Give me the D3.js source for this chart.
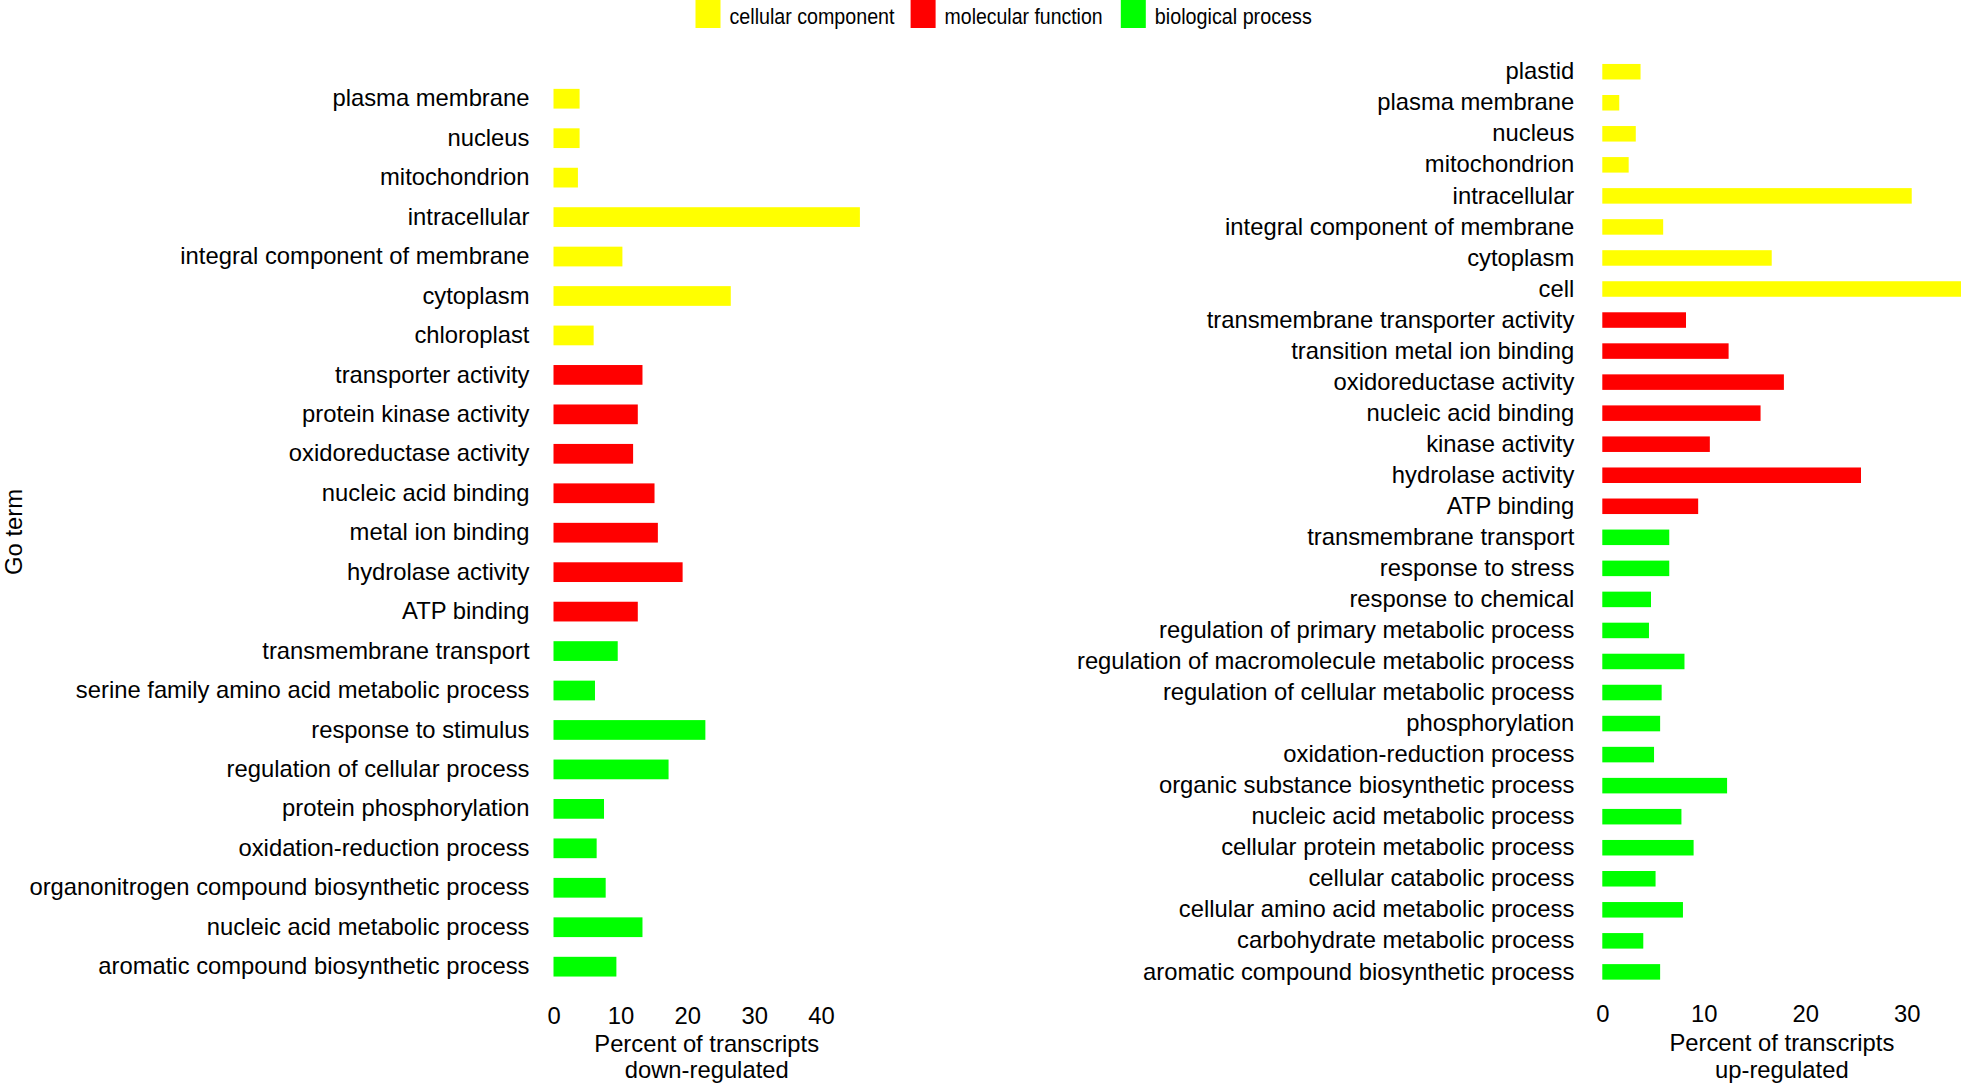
<!DOCTYPE html>
<html>
<head>
<meta charset="utf-8">
<script src="https://cdn.jsdelivr.net/npm/d3@7"></script>
<style>
  html, body { margin: 0; padding: 0; background: #fff; }
  svg { display: block; font-family: "Liberation Sans", Arial, sans-serif; }
</style>
</head>
<body>
<svg id="chart" width="1961" height="1084"></svg>
<script>
// ---------- data ----------
const groups = ["cellular component", "molecular function", "biological process"];
const groupColors = ["#FFFF00", "#FF0000", "#00FF00"];

const downTerms = [
  "plasma membrane", "nucleus", "mitochondrion", "intracellular",
  "integral component of membrane", "cytoplasm", "chloroplast",
  "transporter activity", "protein kinase activity", "oxidoreductase activity",
  "nucleic acid binding", "metal ion binding", "hydrolase activity", "ATP binding",
  "transmembrane transport", "serine family amino acid metabolic process",
  "response to stimulus", "regulation of cellular process", "protein phosphorylation",
  "oxidation-reduction process", "organonitrogen compound biosynthetic process",
  "nucleic acid metabolic process", "aromatic compound biosynthetic process"
];
const downValues = [3.9, 3.9, 3.65, 45.8, 10.3, 26.5, 6.0,
  13.3, 12.6, 11.9, 15.1, 15.6, 19.3, 12.6,
  9.6, 6.2, 22.7, 17.2, 7.55, 6.45, 7.8, 13.3, 9.4];
const downGroup = [0,0,0,0,0,0,0, 1,1,1,1,1,1,1, 2,2,2,2,2,2,2,2,2];

const upTerms = [
  "plastid", "plasma membrane", "nucleus", "mitochondrion", "intracellular",
  "integral component of membrane", "cytoplasm", "cell",
  "transmembrane transporter activity", "transition metal ion binding",
  "oxidoreductase activity", "nucleic acid binding", "kinase activity",
  "hydrolase activity", "ATP binding",
  "transmembrane transport", "response to stress", "response to chemical",
  "regulation of primary metabolic process", "regulation of macromolecule metabolic process",
  "regulation of cellular metabolic process", "phosphorylation", "oxidation-reduction process",
  "organic substance biosynthetic process", "nucleic acid metabolic process",
  "cellular protein metabolic process", "cellular catabolic process",
  "cellular amino acid metabolic process", "carbohydrate metabolic process",
  "aromatic compound biosynthetic process"
];
const upValues = [3.77, 1.67, 3.3, 2.6, 30.5, 6.0, 16.7, 35.4,
  8.25, 12.45, 17.9, 15.6, 10.6, 25.5, 9.45,
  6.6, 6.6, 4.8, 4.6, 8.1, 5.85, 5.7, 5.1, 12.3, 7.8, 9.0, 5.25, 7.95, 4.04, 5.7];
const upGroup = [0,0,0,0,0,0,0,0, 1,1,1,1,1,1,1,
  2,2,2,2,2,2,2,2,2,2,2,2,2,2,2];

const downTicks = [0, 10, 20, 30, 40];
const upTicks = [0, 10, 20, 30];

// ---------- drawing ----------
const svg = d3.select("#chart");
const FONT = 23.8;

function panel(cfg) {
  const g = svg.append("g");
  const x = d3.scaleLinear().domain([0, d3.max(cfg.values)]).range(cfg.xRange);
  const y = d3.scaleBand().domain(cfg.terms).range(cfg.yRange)
    .paddingInner(0.5).paddingOuter(0.25);

  g.selectAll("rect.bar").data(cfg.terms).join("rect")
    .attr("class", "bar")
    .attr("x", x(0))
    .attr("y", d => y(d))
    .attr("width", (d, i) => x(cfg.values[i]) - x(0))
    .attr("height", y.bandwidth())
    .attr("fill", (d, i) => groupColors[cfg.group[i]]);

  // category axis
  const ya = g.append("g").attr("transform", `translate(${x(0)},0)`)
    .call(d3.axisLeft(y).tickSize(0).tickPadding(cfg.labelPad));
  ya.select(".domain").remove();
  ya.selectAll("text").attr("font-size", FONT).attr("fill", "#000")
    .attr("font-family", "Liberation Sans, Arial, sans-serif");

  // value axis
  const xa = g.append("g").attr("transform", `translate(0,${cfg.axisY})`)
    .call(d3.axisBottom(x).tickValues(cfg.ticks).tickSize(0).tickPadding(0));
  xa.select(".domain").remove();
  xa.selectAll("text").attr("font-size", FONT).attr("fill", "#000")
    .attr("dy", "0.71em")
    .attr("font-family", "Liberation Sans, Arial, sans-serif");

  const cx = (cfg.xRange[0] + cfg.xRange[1]) / 2;
  const t = g.append("text").attr("x", cx).attr("text-anchor", "middle")
    .attr("font-size", FONT).attr("fill", "#000");
  t.append("tspan").attr("x", cx).attr("y", cfg.titleY[0]).text(cfg.title[0]);
  t.append("tspan").attr("x", cx).attr("y", cfg.titleY[1]).text(cfg.title[1]);
}

panel({
  terms: downTerms, values: downValues, group: downGroup, ticks: downTicks,
  xRange: [553.5, 553.5 + 45.8 * 6.69], yRange: [79, 986.4],
  labelPad: 24, axisY: 1007, titleY: [1052, 1078],
  title: ["Percent of transcripts", "down-regulated"]
});

panel({
  terms: upTerms, values: upValues, group: upGroup, ticks: upTicks,
  xRange: [1602.3, 1602.3 + 35.4 * 10.145], yRange: [56.2, 987.4],
  labelPad: 28, axisY: 1005, titleY: [1051, 1078],
  title: ["Percent of transcripts", "up-regulated"]
});

// y axis title
svg.append("text")
  .attr("transform", "translate(22,532) rotate(-90)")
  .attr("text-anchor", "middle")
  .attr("font-size", FONT).attr("fill", "#000")
  .text("Go term");

// legend
const legX = [695.5, 910.6, 1120.8];
const legW = [165, 158, 157];
const leg = svg.append("g");
groups.forEach((name, i) => {
  leg.append("rect").attr("x", legX[i]).attr("y", 0)
    .attr("width", 25).attr("height", 28).attr("fill", groupColors[i]);
  leg.append("text").attr("x", legX[i] + 34).attr("y", 24)
    .attr("font-size", 22).attr("fill", "#000")
    .attr("textLength", legW[i]).attr("lengthAdjust", "spacingAndGlyphs")
    .text(name);
});
</script>
</body>
</html>
